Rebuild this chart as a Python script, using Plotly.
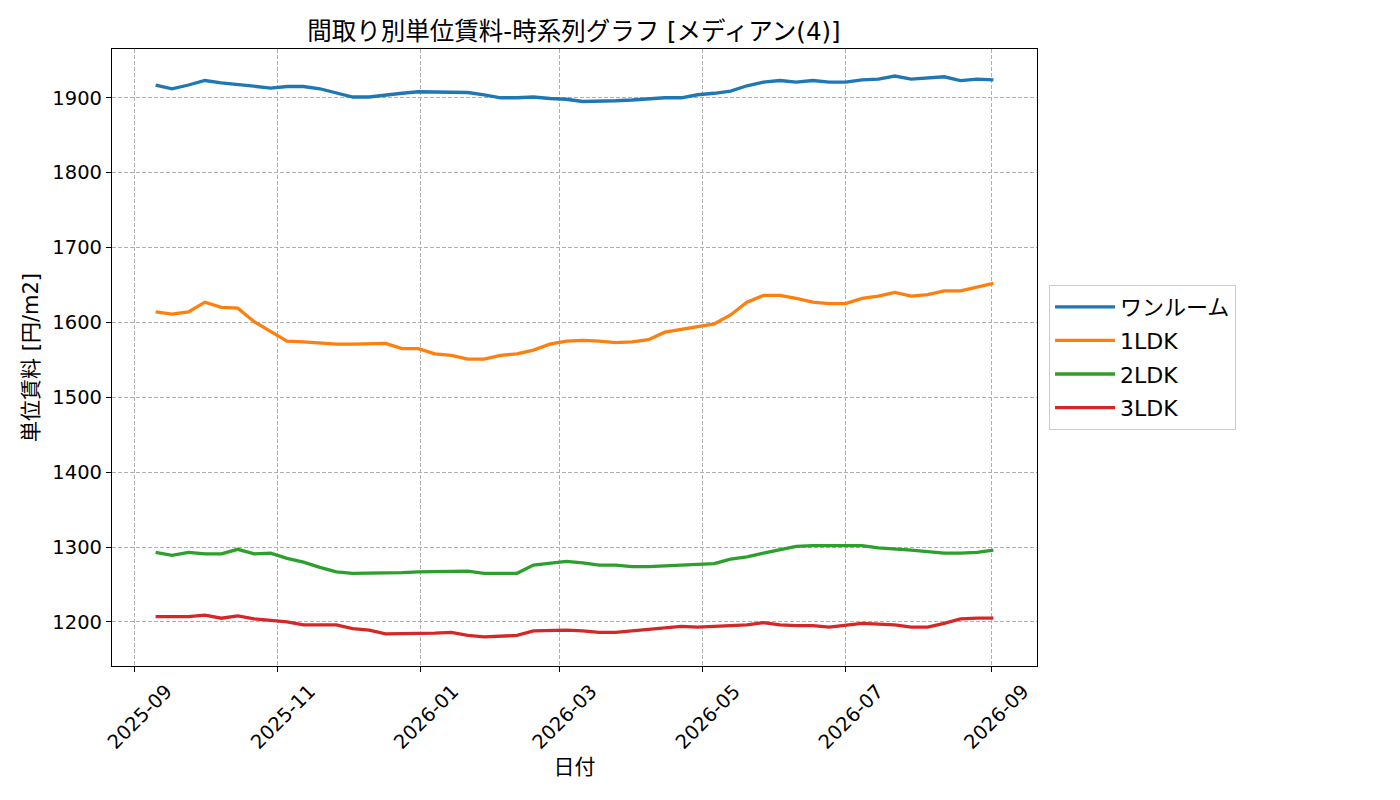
import pandas as pd
import plotly.graph_objects as go

# 週次データ (2025-09 ～ 2026-09)
dates = pd.date_range("2025-09-10", periods=52, freq="7D")

one_room = [1917, 1912, 1917, 1923, 1920, 1918, 1915, 1913, 1915, 1915,
            1912, 1907, 1901, 1901, 1904, 1906, 1908, 1908, 1907, 1907,
            1904, 1900, 1900, 1901, 1899, 1898, 1895, 1895, 1896, 1897,
            1899, 1900, 1900, 1904, 1906, 1909, 1916, 1921, 1923, 1921,
            1923, 1921, 1921, 1924, 1925, 1929, 1925, 1927, 1928, 1923,
            1925, 1924]
ldk1 = [1614, 1611, 1614, 1627, 1620, 1619, 1601, 1588, 1575, 1574,
        1572, 1571, 1571, 1571, 1572, 1565, 1565, 1558, 1556, 1551,
        1551, 1556, 1558, 1563, 1571, 1575, 1576, 1575, 1573, 1574,
        1577, 1587, 1591, 1594, 1598, 1610, 1627, 1636, 1636, 1632,
        1627, 1625, 1625, 1632, 1635, 1640, 1635, 1637, 1642, 1642,
        1647, 1652]
ldk2 = [1293, 1289, 1293, 1291, 1291, 1297, 1291, 1292, 1285, 1280,
        1273, 1267, 1265, 1265, 1265, 1266, 1267, 1267, 1268, 1268,
        1265, 1265, 1265, 1276, 1279, 1281, 1279, 1276, 1276, 1274,
        1274, 1275, 1276, 1276, 1278, 1284, 1287, 1292, 1297, 1301,
        1302, 1302, 1302, 1302, 1299, 1298, 1296, 1294, 1292, 1292,
        1293, 1296]
ldk3 = [1207, 1207, 1207, 1209, 1205, 1208, 1204, 1202, 1200, 1196,
        1196, 1196, 1191, 1189, 1184, 1184, 1184, 1185, 1186, 1182,
        1180, 1181, 1182, 1188, 1189, 1189, 1188, 1186, 1186, 1188,
        1190, 1192, 1194, 1193, 1194, 1195, 1196, 1199, 1196, 1195,
        1195, 1193, 1196, 1198, 1197, 1196, 1193, 1193, 1198, 1204,
        1205, 1205]

names = ["ワンルーム", "1LDK", "2LDK", "3LDK"]
colors = ["#1f77b4", "#ff7f0e", "#2ca02c", "#d62728"]
series = [one_room, ldk1, ldk2, ldk3]

font = "DejaVu Sans, Noto Sans CJK JP"

fig = go.Figure()
for name, vals, c in zip(names, series, colors):
    fig.add_trace(go.Scatter(x=dates, y=vals, mode="lines", name=name,
                             legendgroup=name,
                             line=dict(color=c, width=3.3)))

axis_common = dict(
    showline=True, linecolor="black", linewidth=1.2, mirror=True,
    ticks="outside", ticklen=5, tickwidth=1.2, tickcolor="black",
    showgrid=True, gridcolor="#b0b0b0", gridwidth=0.8, griddash="4px,2px",
    zeroline=False, tickfont=dict(size=19.5, color="black", family=font),
)

fig.update_xaxes(
    range=["2025-08-22 10:00", "2026-09-20 14:00"],
    tick0="2025-09-01", dtick="M2", tickformat="%Y-%m",
    tickangle=-45, ticklabelshift=32,
    title=dict(text="日付", font=dict(size=21, color="black", family=font), standoff=6),
    **axis_common,
)
fig.update_yaxes(
    range=[1141.2, 1965.1], dtick=100,
    title=dict(text="単位賃料 [円/m2]", font=dict(size=21, color="black", family=font), standoff=8),
    **axis_common,
)

# ページ余白(8px)分を差し引いたマージン
fig.update_layout(
    width=1400, height=800,
    margin=dict(l=104, r=371, t=41, b=142),
    paper_bgcolor="white", plot_bgcolor="white",
    font=dict(family=font, color="black"),
    title=dict(text="間取り別単位賃料-時系列グラフ [メディアン(4)]",
               x=566 / 1400, xanchor="center", y=1 - 23 / 800, yanchor="middle", yref="container",
               font=dict(size=24.5, color="black", family=font)),
    legend=dict(x=1.013, xanchor="left", y=0.5, yanchor="middle",
                bordercolor="#cccccc", borderwidth=1, bgcolor="white",
                tracegroupgap=2, itemwidth=60,
                font=dict(size=22, color="black", family=font)),
)

fig.write_html("out.html")
